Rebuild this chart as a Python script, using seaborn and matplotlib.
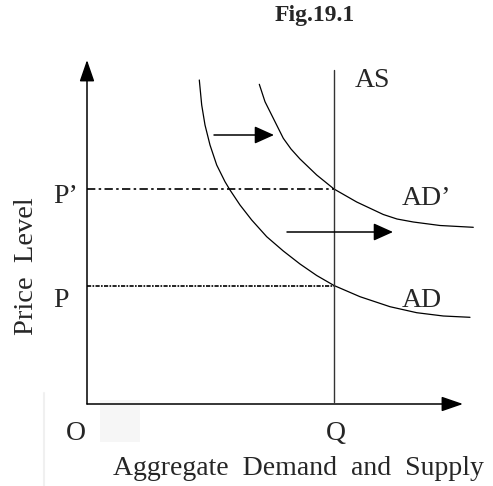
"""Fig.19.1 - skift i aggregerad efterfrågan (AD -> AD') mot vertikal AS."""
import matplotlib

matplotlib.use("Agg")
import matplotlib.pyplot as plt
import pandas as pd
import seaborn as sns
from matplotlib.patches import Rectangle

# Kurvor (kvantitet, prisnivå)
AD_Q = [11.23, 11.47, 11.8, 12.3, 12.97, 13.8, 14.3, 15.3, 16.47, 17.97,
        19.63, 21.3, 22.97, 24.7, 27.3, 30.3, 32.97, 35.63, 38.3]
AD_P = [32.4, 29.9, 27.9, 25.9, 23.9, 22.23, 21.4, 19.9, 18.4, 16.73,
        15.3, 14.0, 12.85, 11.85, 10.73, 9.73, 9.13, 8.8, 8.67]
AD2_Q = [17.23, 17.8, 18.3, 18.63, 19.63, 20.4, 21.3, 22.97, 24.7, 26.97,
         29.63, 31.0, 32.63, 35.3, 38.63]
AD2_P = [31.97, 30.23, 29.23, 28.57, 26.57, 25.5, 24.5, 22.9, 21.5, 20.2,
         18.95, 18.5, 18.2, 17.85, 17.67]

Q_EQ = 24.7        # AS-linjens läge
AS_TOP = 33.4
P_LOW = 11.8       # P
P_HIGH = 21.5      # P'
X_END = 37.6
Y_END = 34.4

# Skiftpilar (start, slut, höjd)
SHIFT_ARROWS = [(12.7, 18.7, 26.9), (20.0, 30.6, 17.2)]

sns.set_theme(style="white")
plt.rcParams["font.family"] = ["Liberation Serif", "DejaVu Serif"]

fig = plt.figure(figsize=(4.93, 4.86), dpi=100)
ax = fig.add_axes([0, 0, 1, 1])
ax.set_xlim(-8.7, 40.6)
ax.set_ylim(-8.2, 40.4)
ax.axis("off")

# svag vattenstämpel i bakgrunden
ax.add_patch(Rectangle((1.3, -3.8), 4.0, 4.2, color="#f6f6f6", zorder=0, lw=0))
ax.plot([-4.3, -4.3], [-8.2, 1.1], color="#f0f0f0", lw=1.5, zorder=0)

curves = pd.concat([
    pd.DataFrame({"Q": AD_Q, "P": AD_P, "kurva": "AD"}),
    pd.DataFrame({"Q": AD2_Q, "P": AD2_P, "kurva": "AD'"}),
])
sns.lineplot(data=curves, x="Q", y="P", units="kurva", estimator=None,
             sort=False, color="black", lw=0.9, ax=ax, legend=False)

# axlar med pilspetsar
axis_style = dict(arrowstyle="-|>,head_length=1.1,head_width=0.38",
                  color="black", lw=1.1, shrinkA=0, shrinkB=0)
ax.annotate("", xy=(0, Y_END), xytext=(0, 0), arrowprops=axis_style)
ax.annotate("", xy=(X_END, 0), xytext=(0, 0), arrowprops=axis_style)

# AS
ax.plot([Q_EQ, Q_EQ], [0.2, AS_TOP], color="#333333", lw=1.0)

# prisnivåer
ax.plot([0, Q_EQ], [P_HIGH, P_HIGH], color="black", lw=1.2,
        linestyle=(0, (5, 2, 1.5, 2)))
ax.plot([0, Q_EQ], [P_LOW, P_LOW], color="black", lw=1.2,
        linestyle=(0, (2.5, 0.8, 1, 0.8)))

shift_style = dict(arrowstyle="-|>,head_length=1.0,head_width=0.45",
                   color="black", lw=1.1, shrinkA=0, shrinkB=0)
for x0, x1, y in SHIFT_ARROWS:
    ax.annotate("", xy=(x1, y), xytext=(x0, y), arrowprops=shift_style)

fs = 20
ax.text(22.8, 38.8, "Fig.19.1", fontsize=17, fontweight="bold",
        ha="center", va="center")
ax.text(26.8, 32.35, "AS", fontsize=fs, ha="left", va="center")
ax.text(-3.4, 20.1, "P\u2019", fontsize=fs, ha="left", va="baseline")
ax.text(-3.4, 9.7, "P", fontsize=fs, ha="left", va="baseline")
ax.text(31.5, 19.9, "AD\u2019", fontsize=fs, ha="left", va="baseline")
ax.text(31.5, 9.7, "AD", fontsize=fs, ha="left", va="baseline")
ax.text(-2.1, -3.6, "O", fontsize=fs, ha="left", va="baseline")
ax.text(23.9, -3.6, "Q", fontsize=fs, ha="left", va="baseline")
ax.text(2.6, -7.1, "Aggregate  Demand  and  Supply", fontsize=fs,
        ha="left", va="baseline")
ax.text(-6.0, 13.8, "Price  Level", fontsize=20.5, rotation=90,
        ha="center", va="center")

fig.savefig("out.png", dpi=100)
plt.close(fig)
